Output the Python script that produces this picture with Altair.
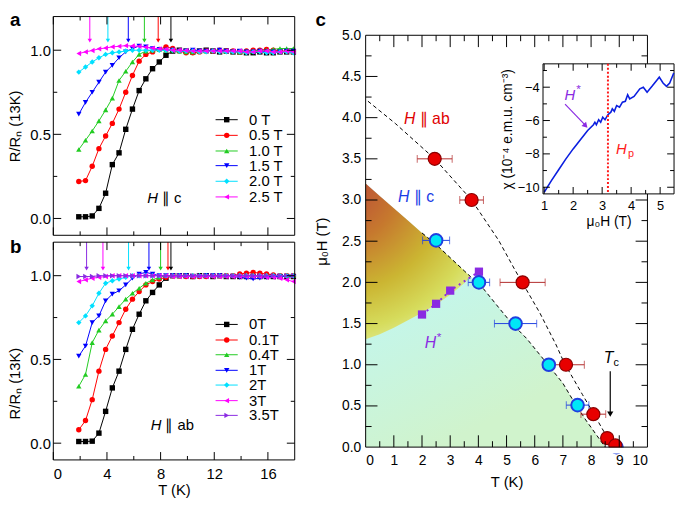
import altair as alt
import pandas as pd

FONT = "Liberation Sans"

# ---------------- panel a / b data ----------------
T_grid = [1.9, 2.4, 2.9, 3.4, 3.9, 4.4, 4.9, 5.4, 5.9, 6.4, 6.9,
          7.4, 7.9, 8.4, 8.9, 9.4, 9.9, 10.4, 10.9, 11.4, 11.9, 12.4,
          12.9, 13.4, 13.9, 14.4, 14.9, 15.4, 15.9, 16.4, 16.9, 17.4, 17.9]

a_labels = ["0 T", "0.5 T", "1.0 T", "1.5 T", "2.0 T", "2.5 T"]
a_R = [
    [0.01, 0.01, 0.015, 0.06, 0.15, 0.32, 0.39, 0.53, 0.65, 0.76, 0.83,
     0.89, 0.93, 0.97, 0.995, 1.0, 0.995, 0.99, 0.995, 1.0, 0.995, 0.99,
     0.995, 0.99, 0.99, 0.985, 0.985, 0.99, 0.985, 0.985, 0.99, 0.99, 0.99],
    [0.22, 0.225, 0.31, 0.415, 0.49, 0.565, 0.65, 0.75, 0.85, 0.935, 0.975,
     0.99, 1.005, 1.02, 1.01, 0.995, 0.985, 0.985, 0.99, 0.995, 0.995, 1.0,
     0.995, 0.995, 0.99, 0.995, 1.0, 1.0, 1.005, 1.0, 0.995, 0.995, 0.99],
    [0.41, 0.465, 0.52, 0.58, 0.645, 0.715, 0.82, 0.875, 0.93, 0.975, 0.995,
     1.0, 1.005, 1.0, 1.0, 0.995, 0.99, 0.99, 0.995, 0.995, 1.0, 1.0,
     0.995, 0.995, 0.99, 0.995, 0.995, 1.0, 1.0, 1.005, 1.01, 1.01, 1.01],
    [0.62, 0.69, 0.75, 0.81, 0.87, 0.91, 0.955, 0.99, 1.01, 1.025, 1.02,
     1.01, 1.005, 1.0, 1.0, 0.995, 0.995, 1.0, 0.995, 0.995, 0.995, 1.0,
     0.995, 0.99, 0.995, 0.99, 0.99, 0.995, 0.99, 0.99, 0.99, 0.995, 0.995],
    [0.87, 0.9, 0.93, 0.955, 0.975, 0.985, 0.99, 0.995, 1.0, 1.0, 1.0,
     1.0, 1.0, 1.0, 1.0, 0.995, 0.995, 0.995, 0.99, 0.99, 0.995, 0.99,
     0.99, 0.99, 0.99, 0.985, 0.99, 0.99, 0.985, 0.985, 0.99, 0.99, 0.985],
    [0.98, 0.99, 0.998, 1.008, 1.013, 1.02, 1.023, 1.027, 1.025, 1.023, 1.018,
     1.012, 1.008, 1.005, 1.0, 1.0, 0.998, 0.995, 0.995, 0.995, 0.995, 0.995,
     0.995, 0.995, 0.995, 0.99, 0.99, 0.995, 0.995, 0.99, 0.99, 0.995, 0.99],
]
a_arrow_T = [2.72, 4.07, 5.59, 6.79, 7.82, 8.77]
a_arrow_idx = [5, 4, 3, 2, 1, 0]

b_labels = ["0T", "0.1T", "0.4T", "1T", "2T", "3T", "3.5T"]
b_R = [
    [0.01, 0.01, 0.012, 0.06, 0.19, 0.33, 0.43, 0.56, 0.68, 0.77, 0.85,
     0.9, 0.945, 0.985, 1.0, 1.0, 1.0, 0.995, 1.0, 1.0, 0.995, 1.0,
     0.995, 0.995, 0.995, 0.995, 0.995, 0.995, 0.995, 0.995, 0.995, 0.995, 0.995],
    [0.08, 0.135, 0.26, 0.43, 0.56, 0.64, 0.72, 0.8, 0.86, 0.905, 0.945,
     0.965, 0.98, 0.99, 1.0, 1.0, 0.995, 0.995, 0.995, 0.995, 1.0, 1.0,
     1.0, 1.0, 1.01, 1.015, 1.02, 1.015, 1.01, 1.005, 1.0, 1.0, 1.0],
    [0.34, 0.41, 0.6, 0.675, 0.73, 0.77, 0.815, 0.86, 0.895, 0.925, 0.955,
     0.975, 0.99, 1.0, 1.0, 1.0, 1.0, 1.0, 1.0, 1.0, 1.0, 1.0,
     1.0, 1.0, 1.0, 1.0, 1.0, 1.0, 1.0, 1.0, 1.0, 1.0, 1.0],
    [0.52, 0.58, 0.72, 0.76, 0.85, 0.89, 0.91, 0.945, 0.985, 1.01, 1.02,
     1.01, 1.0, 1.0, 1.0, 1.0, 1.0, 0.995, 0.995, 1.0, 1.0, 1.0,
     0.995, 0.995, 0.99, 0.985, 0.98, 0.985, 0.99, 0.995, 0.995, 0.995, 0.995],
    [0.72, 0.76, 0.82, 0.895, 0.955, 0.97, 0.98, 0.99, 1.0, 1.0, 1.0,
     1.0, 1.0, 1.0, 1.0, 1.0, 1.0, 1.0, 1.0, 1.0, 1.0, 1.0,
     1.0, 1.0, 1.0, 1.0, 1.0, 1.0, 1.0, 1.0, 1.0, 1.0, 1.0],
    [0.965, 0.975, 0.985, 0.99, 0.995, 1.0, 1.0, 1.0, 1.0, 1.0, 1.0,
     1.0, 1.0, 1.0, 0.995, 0.995, 0.995, 0.995, 0.995, 0.995, 0.995, 0.995,
     0.995, 0.995, 0.995, 0.995, 0.995, 0.995, 0.99, 0.99, 0.985, 0.975, 0.965],
    [0.995, 0.995, 0.995, 1.0, 1.0, 1.0, 1.0, 1.0, 1.0, 1.0, 1.0,
     1.0, 1.0, 1.0, 1.0, 1.0, 1.0, 1.0, 1.0, 1.0, 1.0, 1.0,
     1.0, 1.0, 1.0, 1.0, 1.0, 1.0, 1.0, 1.0, 1.0, 1.0, 1.0],
]
b_arrow_T = [2.48, 3.7, 5.61, 7.13, 8.0, 8.55, 8.77]
b_arrow_idx = [6, 5, 4, 3, 2, 1, 0]

for r in a_R + b_R:
    assert len(r) == len(T_grid)

# ---------------- panel c data ----------------
ab_T = [2.45, 3.76, 5.57, 7.11, 8.08, 8.57, 8.86]
ab_H = [3.5, 3.0, 2.0, 1.0, 0.4, 0.11, 0.02]
ab_err = [0.62, 0.42, 0.8, 0.65, 0.44, 0.12, 0.1]

c_T = [2.5, 4.02, 5.32, 6.5, 7.52, 8.9]
c_H = [2.51, 2.0, 1.5, 1.0, 0.51, 0.0]
c_err = [0.48, 0.38, 0.75, 0.1, 0.4, 0.1]

hs_T = [2.0, 2.5, 3.0, 4.02]
hs_H = [1.61, 1.74, 1.9, 2.13]

abline_T = [0.08, 1.05, 2.45, 3.76, 4.72, 5.3, 6.18, 6.76, 7.05, 7.69, 8.1, 8.57, 8.86]
abline_H = [4.2, 3.93, 3.5, 3.0, 2.51, 2.15, 1.63, 1.24, 1.02, 0.64, 0.4, 0.12, 0.0]

cline_T = [0.0, 0.5, 1.0, 1.5, 2.0, 2.5, 3.0, 3.5, 3.72, 4.02, 4.78, 5.19, 5.71, 6.47, 6.99, 7.34, 7.81, 8.5]
cline_H = [3.2, 3.05, 2.9, 2.75, 2.6, 2.46, 2.3, 2.14, 2.07, 1.99, 1.67, 1.5, 1.32, 1.0, 0.78, 0.58, 0.33, 0.0]

orange_T = [0.0, 0.5, 1.0, 1.5, 2.0, 2.5, 3.0, 3.5, 3.72]
orange_lo = [1.31, 1.37, 1.45, 1.54, 1.63, 1.73, 1.85, 1.99, 2.07]

chi_H = [1.0, 1.25, 1.5, 1.75, 2.0, 2.25, 2.5, 2.7, 2.75, 2.8, 2.88, 2.95, 3.02, 3.1,
         3.2, 3.3, 3.35, 3.42, 3.5, 3.6, 3.7, 3.8, 3.88, 3.95, 4.1, 4.3, 4.42, 4.55,
         4.72, 4.9, 4.97, 5.1, 5.22, 5.33, 5.47]
chi_V = [-10.3, -9.6, -8.95, -8.3, -7.7, -7.15, -6.6, -6.25, -6.1, -6.25, -5.95, -6.1, -5.8, -5.95,
         -5.65, -5.5, -5.3, -5.45, -5.1, -5.2, -4.9, -4.85, -4.45, -4.7, -4.55, -4.1, -4.0, -4.3,
         -3.95, -3.55, -3.4, -3.75, -3.95, -3.75, -3.15]
Hp_value = 3.2

# ---------------- styling ----------------
COL7 = ["#000000", "#ff0000", "#22cc22", "#0000ff", "#00e0ff", "#ff00ff", "#8a2be2"]
SHP7 = ["square", "circle", "triangle-up", "triangle-down", "diamond", "triangle-left", "triangle-right"]
PURPLE = "#8a2be2"
ONE = pd.DataFrame({"k": [0]})

# whole figure is one view: origin = top-left of panel a's frame
VW, VH = 603, 450
AB_X0, AB_X1 = 0, 245
A_Y0, A_Y1 = 0, 222
B_Y0, B_Y1 = 229, 450
CX0, CX1, CY0, CY1 = 317, 603, 19, 437
IX0, IX1, IY0, IY1 = CX0 + 180, CX0 + 313, 48, 180
LETTER_SIZE = 19
LETTER_Y = 10


class Ctx:
    """scale + axis pair for one coordinate system (same axis object for every layer)."""
    def __init__(self, sx, ax, sy, ay):
        self.sx, self.ax, self.sy, self.ay = sx, ax, sy, ay

    def X(self, f):
        return alt.X(f, type="quantitative", scale=self.sx, axis=self.ax)

    def Y(self, f):
        return alt.Y(f, type="quantitative", scale=self.sy, axis=self.ay)


def txt(c, x, y, text, color="black", size=15, italic=False, dx=0, dy=0,
        align="left", baseline="alphabetic"):
    d = pd.DataFrame({"x": [x], "y": [y]})
    return alt.Chart(d).mark_text(
        text=text, color=color, fontSize=size, fontStyle="italic" if italic else "normal",
        dx=dx, dy=dy, align=align, baseline=baseline, font=FONT
    ).encode(x=c.X("x"), y=c.Y("y"))


def pix_text(px, py, text, size=LETTER_SIZE):
    return alt.Chart(ONE).mark_text(
        text=text, fontSize=size, fontWeight="bold", align="left", baseline="alphabetic",
        color="black", font=FONT
    ).encode(x=alt.value(px), y=alt.value(py))


def frame(x0, x1, y0, y1, fill=None):
    kw = dict(stroke="black", strokeWidth=1)
    if fill:
        kw["fill"] = fill
    else:
        kw["fillOpacity"] = 0
    return alt.Chart(ONE).mark_rect(**kw).encode(
        x=alt.value(x0), x2=alt.value(x1), y=alt.value(y0), y2=alt.value(y1))


def ticks(c, xmaj, xmin, ymaj, ymin, x0, x1, y0, y1, lmaj, lmin):
    out = []
    for vals, L in ((xmaj, lmaj), (xmin, lmin)):
        base = alt.Chart(pd.DataFrame({"v": vals})).mark_rule(color="black", strokeWidth=1)
        out.append(base.encode(x=c.X("v"), y=alt.value(y1), y2=alt.value(y1 - L)))
        out.append(base.encode(x=c.X("v"), y=alt.value(y0), y2=alt.value(y0 + L)))
    for vals, L in ((ymaj, lmaj), (ymin, lmin)):
        base = alt.Chart(pd.DataFrame({"v": vals})).mark_rule(color="black", strokeWidth=1)
        out.append(base.encode(y=c.Y("v"), x=alt.value(x0), x2=alt.value(x0 + L)))
        out.append(base.encode(y=c.Y("v"), x=alt.value(x1), x2=alt.value(x1 - L)))
    return out


# ---------------- panels a + b ----------------
sx_ab = alt.Scale(domain=[0, 18], nice=False, range=[AB_X0, AB_X1])
xaxis_ab = alt.Axis(values=[0, 4, 8, 12, 16], format="d", labelFontSize=15, labelPadding=7,
                    ticks=False, domain=False, grid=False, title="T (K)", titleFontSize=15,
                    titlePadding=1, orient="bottom")


def rt_layers(Rs, labels, arrT, arrIdx, tip, legR, htext, hT, hR, letter, letter_y, y0, y1, title_y):
    sy = alt.Scale(domain=[-0.1, 1.2], nice=False, range=[y1, y0])
    ykw = dict(values=[0, 0.5, 1.0], format=".1f", labelFontSize=15, labelPadding=3,
               ticks=False, domain=False, grid=False, title="R/Rₙ (13K)",
               titleFontSize=15, titlePadding=7, orient="left")
    if title_y is not None:
        ykw["titleY"] = title_y
    c = Ctx(sx_ab, xaxis_ab, sy, alt.Axis(**ykw))
    layers = []
    for i, R in enumerate(Rs):
        d = pd.DataFrame({"T": T_grid, "R": R})
        col = COL7[i]
        layers.append(alt.Chart(d).mark_line(color=col, strokeWidth=1).encode(x=c.X("T"), y=c.Y("R")))
        layers.append(alt.Chart(d).mark_point(color=col, fill=col, filled=True, shape=SHP7[i],
                                              size=30, opacity=1).encode(x=c.X("T"), y=c.Y("R")))
    for t, k in zip(arrT, arrIdx):
        col = COL7[k]
        d = pd.DataFrame({"t": [t], "r1": [1.2], "r2": [tip + 0.02], "rt": [tip + 0.012]})
        layers.append(alt.Chart(d).mark_rule(color=col, strokeWidth=1).encode(
            x=c.X("t"), y=c.Y("r1"), y2="r2"))
        layers.append(alt.Chart(d).mark_point(shape="triangle-down", filled=True, fill=col, color=col,
                                              size=20, opacity=1).encode(x=c.X("t"), y=c.Y("rt")))
    for i, lab in enumerate(labels):
        col = COL7[i]
        d = pd.DataFrame({"t1": [12.1], "t2": [13.75], "tm": [12.93], "r": [legR[i]]})
        layers.append(alt.Chart(d).mark_rule(color=col, strokeWidth=1).encode(
            x=c.X("t1"), x2="t2", y=c.Y("r")))
        layers.append(alt.Chart(d).mark_point(shape=SHP7[i], filled=True, fill=col, color=col,
                                              size=30, opacity=1).encode(x=c.X("tm"), y=c.Y("r")))
        layers.append(txt(c, 14.6, legR[i], lab, size=15, baseline="middle"))
    layers.append(txt(c, hT, hR, "H", size=15, italic=True))
    layers.append(txt(c, hT, hR, "∥ " + htext, size=15, dx=15))
    layers += ticks(c, [0, 4, 8, 12, 16], [2, 6, 10, 14], [0, 0.5, 1.0], [0.25, 0.75],
                    AB_X0, AB_X1, y0, y1, 8, 4)
    layers.append(frame(AB_X0, AB_X1, y0, y1))
    layers.append(pix_text(-44, letter_y, letter))
    return alt.layer(*layers)


layer_a = rt_layers(a_R, a_labels, a_arrow_T, a_arrow_idx, 1.045,
                    [0.587, 0.494, 0.401, 0.314, 0.221, 0.128], "c", 7.0, 0.09, "a", LETTER_Y,
                    A_Y0, A_Y1, None)
layer_b = rt_layers(b_R, b_labels, b_arrow_T, b_arrow_idx, 1.03,
                    [0.709, 0.616, 0.528, 0.435, 0.347, 0.254, 0.166], "ab", 7.26, 0.08, "b", 240,
                    B_Y0, B_Y1, 372)
group_ab = alt.layer(layer_a, layer_b).resolve_scale(y="independent")

# ---------------- panel c ----------------
sxc = alt.Scale(domain=[0, 10], nice=False, range=[CX0, CX1])
syc = alt.Scale(domain=[0, 5], nice=False, range=[CY1, CY0])
xaxis_c = alt.Axis(values=list(range(0, 11)), format="d", labelFontSize=14, labelPadding=7,
                   ticks=False, domain=False, grid=False, title="T (K)", titleFontSize=15,
                   titlePadding=7, orient="bottom", offset=-(VH - CY1))
yaxis_c = alt.Axis(values=[0, 0.5, 1.0, 1.5, 2.0, 2.5, 3.0, 3.5, 4.0, 4.5, 5.0], format=".1f",
                   labelFontSize=14, labelPadding=5, ticks=False, domain=False, grid=False,
                   title="μ₀H (T)", titleFontSize=15, titlePadding=12, orient="left", offset=-CX0)
cc = Ctx(sxc, xaxis_c, syc, yaxis_c)

cyan_grad = alt.LinearGradient(gradient="linear", x1=0, y1=0.35, x2=0.3, y2=1, stops=[
    alt.GradientStop(color="#c0f7f4", offset=0),
    alt.GradientStop(color="#d0f3cc", offset=1)])
orange_grad = alt.RadialGradient(gradient="radial", x1=0, y1=0, r1=0, x2=0, y2=0, r2=1.25, stops=[
    alt.GradientStop(color="#b8423a", offset=0),
    alt.GradientStop(color="#c6782e", offset=0.3),
    alt.GradientStop(color="#cbb532", offset=0.55),
    alt.GradientStop(color="#d6dc5c", offset=0.75),
    alt.GradientStop(color="#e4f3ac", offset=0.92),
    alt.GradientStop(color="#eef9c8", offset=1)])

main = []
d_cl = pd.DataFrame({"T": cline_T, "H": cline_H})
main.append(alt.Chart(d_cl).mark_area(fill=cyan_grad, opacity=1).encode(x=cc.X("T"), y=cc.Y("H")))
d_or = pd.DataFrame({"T": orange_T, "up": cline_H[:len(orange_T)], "lo": orange_lo})
main.append(alt.Chart(d_or).mark_area(fill=orange_grad, opacity=1).encode(
    x=cc.X("T"), y=cc.Y("up"), y2="lo"))
d_ab = pd.DataFrame({"T": abline_T, "H": abline_H})
main.append(alt.Chart(d_ab).mark_line(color="black", strokeWidth=1, strokeDash=[4, 3]).encode(
    x=cc.X("T"), y=cc.Y("H")))
d_cl2 = pd.DataFrame({"T": cline_T[4:], "H": cline_H[4:]})
main.append(alt.Chart(d_cl2).mark_line(color="black", strokeWidth=1, strokeDash=[4, 3]).encode(
    x=cc.X("T"), y=cc.Y("H")))
d_hs = pd.DataFrame({"T": hs_T, "H": hs_H})
main.append(alt.Chart(d_hs).mark_line(color=PURPLE, strokeWidth=2, strokeDash=[2, 4]).encode(
    x=cc.X("T"), y=cc.Y("H")))
main.append(alt.Chart(d_hs).mark_point(shape="square", filled=True, fill=PURPLE, color=PURPLE,
                                       size=70, opacity=1).encode(x=cc.X("T"), y=cc.Y("H")))

d_abp = pd.DataFrame({"T": ab_T, "H": ab_H, "lo": [t - e for t, e in zip(ab_T, ab_err)],
                      "hi": [t + e for t, e in zip(ab_T, ab_err)]})
d_cp = pd.DataFrame({"T": c_T, "H": c_H, "lo": [t - e for t, e in zip(c_T, c_err)],
                     "hi": [t + e for t, e in zip(c_T, c_err)]})
for d, col in ((d_abp, "#b22a2a"), (d_cp, "#2040e0")):
    main.append(alt.Chart(d).mark_rule(color=col, strokeWidth=1).encode(
        x=cc.X("lo"), x2="hi", y=cc.Y("H")))
    for f in ("lo", "hi"):
        main.append(alt.Chart(d).mark_tick(color=col, orient="vertical", size=8, thickness=1).encode(
            x=cc.X(f), y=cc.Y("H")))
main.append(alt.Chart(d_cp).mark_point(shape="circle", filled=True, fill="#00e6f6", stroke="#1f3fe0",
                                       strokeWidth=2, size=165, opacity=1).encode(
    x=cc.X("T"), y=cc.Y("H")))
main.append(alt.Chart(d_abp).mark_point(shape="circle", filled=True, fill="#e80000", stroke="#8a0000",
                                        strokeWidth=1.2, size=175, opacity=1).encode(
    x=cc.X("T"), y=cc.Y("H")))

main.append(txt(cc, 1.36, 3.92, "H", color="#e00000", size=16, italic=True))
main.append(txt(cc, 1.36, 3.92, "∥ ab", color="#e00000", size=16, dx=16))
main.append(txt(cc, 1.15, 2.97, "H", color="#1a3ce6", size=16, italic=True))
main.append(txt(cc, 1.15, 2.97, "∥ c", color="#1a3ce6", size=16, dx=16))
main.append(txt(cc, 2.1, 1.2, "H", color=PURPLE, size=16, italic=True))
main.append(txt(cc, 2.1, 1.2, "*", color=PURPLE, size=12, dx=12, dy=-7))
main.append(txt(cc, 8.45, 1.02, "T", size=16, italic=True))
main.append(txt(cc, 8.45, 1.02, "c", size=11, dx=10, dy=3))
d_tc = pd.DataFrame({"t": [8.68], "h1": [0.92], "h2": [0.42], "ht": [0.4]})
main.append(alt.Chart(d_tc).mark_rule(color="black", strokeWidth=1.2).encode(
    x=cc.X("t"), y=cc.Y("h1"), y2="h2"))
main.append(alt.Chart(d_tc).mark_point(shape="triangle-down", filled=True, fill="black", color="black",
                                       size=40, opacity=1).encode(x=cc.X("t"), y=cc.Y("ht")))
# white strip under the frame bottom hides the lower half of the circles sitting on 0
main.append(alt.Chart(ONE).mark_rect(fill="white").encode(
    x=alt.value(CX0 + 200), x2=alt.value(CX1 - 1), y=alt.value(CY1 + 0.5), y2=alt.value(CY1 + 6.5)))

main += ticks(cc, list(range(1, 10)), [0.5 + i for i in range(10)],
              [0.5, 1.0, 1.5, 2.0, 2.5, 3.0, 3.5, 4.0, 4.5],
              [0.25, 0.75, 1.25, 1.75, 2.25, 2.75, 3.25, 3.75, 4.25, 4.75],
              CX0, CX1, CY0, CY1, 12, 6)
main.append(frame(CX0, CX1, CY0, CY1))
main.append(pix_text(CX0 - 51, LETTER_Y, "c"))
group_c = alt.layer(*main)

# ---------------- inset ----------------
sxi = alt.Scale(domain=[0.96, 5.48], range=[IX0, IX1], nice=False, zero=False)
syi = alt.Scale(domain=[-10.4, -2.6], range=[IY1, IY0], nice=False, zero=False)
xaxis_i = alt.Axis(values=[1, 2, 3, 4, 5], format="d", labelFontSize=13, labelPadding=6,
                   ticks=False, domain=False, grid=False, title="μ₀H (T)", titleFontSize=14,
                   titlePadding=2, orient="bottom", offset=-(VH - IY1))
yaxis_i = alt.Axis(values=[-10, -8, -6, -4], format="d", labelFontSize=13, labelPadding=4,
                   ticks=False, domain=False, grid=False, title="χ (10⁻⁴ e.m.u. cm⁻³)",
                   titleFontSize=14, titlePadding=3, orient="left", offset=-IX0)
ci = Ctx(sxi, xaxis_i, syi, yaxis_i)

inset = [frame(IX0, IX1, IY0, IY1, fill="white")]
d_chi = pd.DataFrame({"H": chi_H, "chi": chi_V})
inset.append(alt.Chart(d_chi).mark_line(color="#0a1ee0", strokeWidth=1.6).encode(
    x=ci.X("H"), y=ci.Y("chi")))
d_hp = pd.DataFrame({"h": [Hp_value]})
inset.append(alt.Chart(d_hp).mark_rule(color="#ff1a1a", strokeWidth=2, strokeDash=[2, 2]).encode(
    x=ci.X("h"), y=alt.value(IY0), y2=alt.value(IY1)))
inset.append(txt(ci, 1.70, -4.79, "H", color=PURPLE, size=15, italic=True))
inset.append(txt(ci, 1.70, -4.79, "*", color=PURPLE, size=12, dx=12, dy=-7))
inset.append(txt(ci, 3.48, -7.98, "H", color="#ff1a1a", size=15, italic=True))
inset.append(txt(ci, 3.48, -7.98, "p", color="#ff1a1a", size=11, dx=12, dy=4))
d_ar = pd.DataFrame({"h": [1.72, 2.40], "c": [-5.02, -6.25]})
inset.append(alt.Chart(d_ar).mark_line(color=PURPLE, strokeWidth=1.2).encode(
    x=ci.X("h"), y=ci.Y("c")))
d_arh = pd.DataFrame({"h": [2.43], "c": [-6.32]})
inset.append(alt.Chart(d_arh).mark_point(shape="triangle-down", angle=317, filled=True, fill=PURPLE,
                                         color=PURPLE, size=40, opacity=1).encode(
    x=ci.X("h"), y=ci.Y("c")))
inset += ticks(ci, [1, 2, 3, 4, 5], [1.5, 2.5, 3.5, 4.5], [-10, -8, -6, -4], [-9, -7, -5, -3],
               IX0, IX1, IY0, IY1, 7, 4)
group_i = alt.layer(*inset)

chart = alt.layer(group_ab, group_c, group_i).resolve_scale(
    x="independent", y="independent"
).properties(
    width=VW, height=VH,
    padding={"left": 0, "top": 0, "right": 0, "bottom": 0}
).configure(font=FONT).configure_view(stroke="transparent").configure_axis(
    labelColor="black", titleColor="black", titleFontWeight="normal", labelFont=FONT, titleFont=FONT)

chart.save("out.html", embed_options={"renderer": "svg", "actions": False})
